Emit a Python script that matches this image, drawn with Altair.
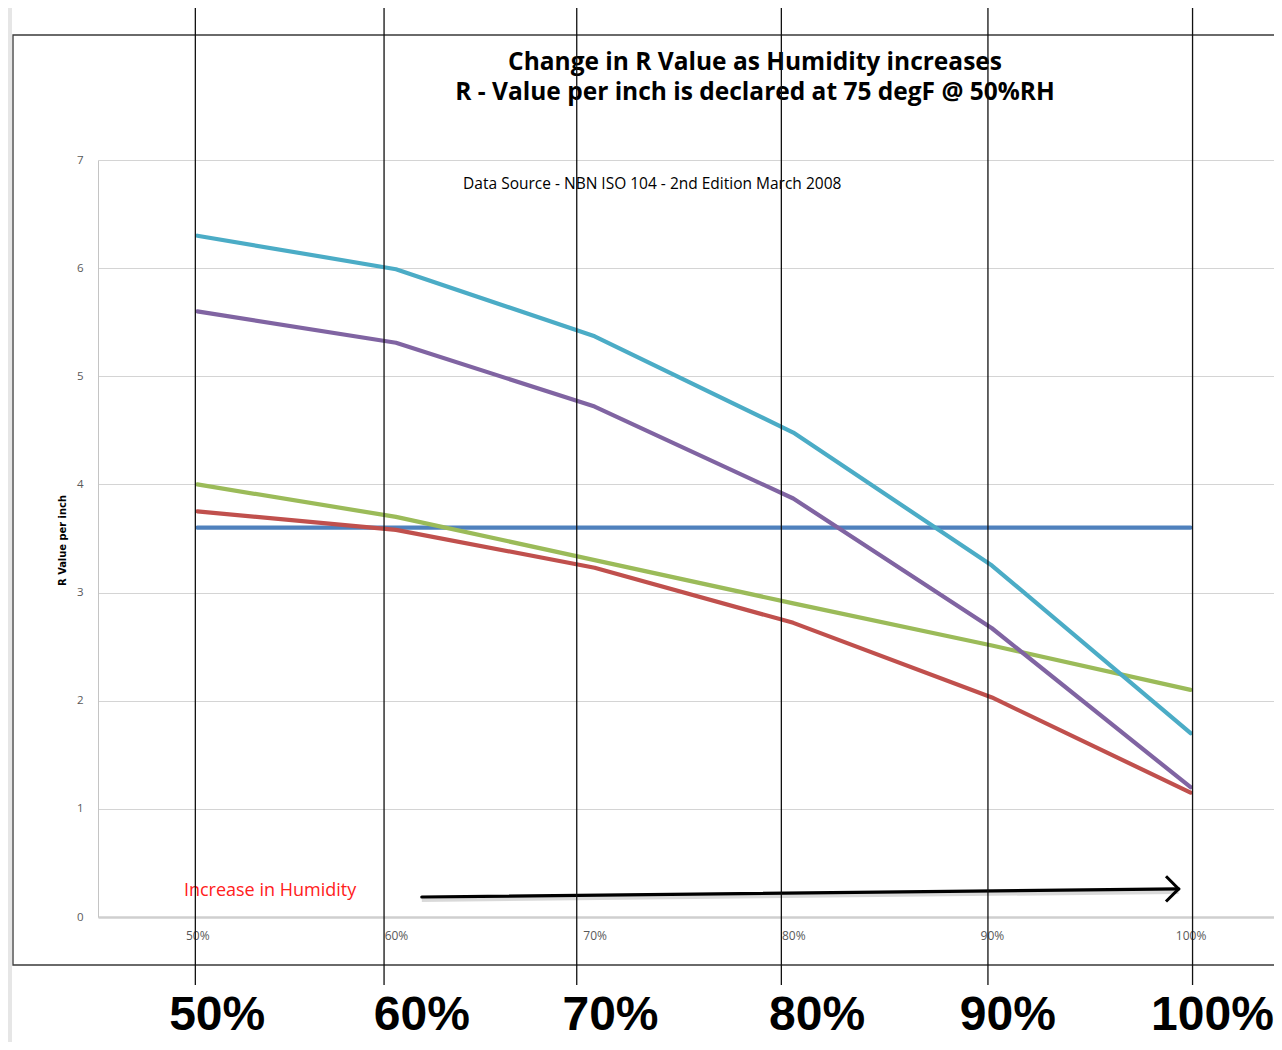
import altair as alt
import pandas as pd

# ---- data ----
humidity = [50, 60, 70, 80, 90, 100]
series_names = ["Declared R-value", "Material A", "Material B", "Material C", "Material D"]
series_colors = ["#4F81BD", "#C0504D", "#9BBB59", "#8064A2", "#4BACC6"]
declared_vals = [3.6, 3.6, 3.6, 3.6, 3.6, 3.6]
red_vals = [3.75, 3.58, 3.23, 2.72, 2.03, 1.15]
green_vals = [4.0, 3.7, 3.3, 2.9, 2.51, 2.1]
purple_vals = [5.6, 5.31, 4.72, 3.87, 2.67, 1.2]
cyan_vals = [6.3, 5.99, 5.37, 4.48, 3.25, 1.7]

y_ticks = [0, 1, 2, 3, 4, 5, 6, 7]
title_lines = ["Change in R Value as Humidity increases",
               "R - Value per inch is declared at 75 degF @ 50%RH"]
source_text = ["Data Source - NBN ISO 104 - 2nd Edition March 2008"]
source_x = [72.9]
source_y = [6.78]
note_text = ["Increase in Humidity"]
note_x = [53.66]
note_y = [0.24]
arrow_x = [61.3, 99.4]
arrow_y = [0.185, 0.26]

# slide overlay (vertical guide lines and big labels)
slide_line_pos = [49.9, 59.4, 69.1, 79.4, 89.8, 100.1]
slide_labels = ["50%", "60%", "70%", "80%", "90%", "100%"]
slide_label_pos = [51.0, 61.3, 70.8, 81.2, 90.8, 101.1]

# ---- tables ----
all_vals = [declared_vals, red_vals, green_vals, purple_vals, cyan_vals]
rows = []
for name, vals in zip(series_names, all_vals):
    for h, v in zip(humidity, vals):
        rows.append({"series": name, "humidity": h, "r": v})
df = pd.DataFrame(rows)

xscale = alt.Scale(domain=[45, 104.2], nice=False, zero=False)
yscale = alt.Scale(domain=[0, 7], nice=False)
X = alt.X("humidity:Q", scale=xscale)
Y = alt.Y("r:Q", scale=yscale)

one = pd.DataFrame({"k": [0]})

strip = alt.Chart(one).mark_rect(fill="#e6e6e6").encode(
    x=alt.value(-90), x2=alt.value(-86), y=alt.value(-152), y2=alt.value(882)
)
frame = alt.Chart(one).mark_rect(fillOpacity=0, stroke="#3a3a3a", strokeWidth=1.3).encode(
    x=alt.value(-85), x2=alt.value(1200), y=alt.value(-125), y2=alt.value(805)
)

title_df = pd.DataFrame({"k": [0]})
title = alt.Chart(title_df).mark_text(
    font="Open Sans", fontSize=24.5, fontWeight="bold", color="#000000",
    baseline="alphabetic", align="center", lineHeight=30
).encode(x=alt.value(657), y=alt.value(-90), text=alt.value(title_lines))

lines = alt.Chart(df).mark_line(strokeWidth=4.2, strokeCap="round", strokeJoin="round").encode(
    x=alt.X("humidity:Q", scale=xscale,
            axis=alt.Axis(values=humidity, labelExpr="datum.value + '%'", title=None,
                          grid=False, ticks=False, labelPadding=18, labelBaseline="middle",
                          labelFont="Open Sans", labelFontSize=12, labelColor="#595959",
                          domainColor="#cfcfcf", domainWidth=2.5)),
    y=alt.Y("r:Q", scale=yscale,
            axis=alt.Axis(values=y_ticks, format="d", title="R Value per inch", grid=True,
                          gridColor="#d4d4d4", gridWidth=1, ticks=False, labelPadding=15,
                          labelFont="Open Sans", labelFontSize=11.5, labelColor="#595959",
                          domainColor="#c4c4c4", domainWidth=1,
                          titleFont="Liberation Sans Narrow, DejaVu Sans Condensed",
                          titleFontSize=11, titleFontWeight="bold", titleColor="#000000",
                          titleAngle=-90, titleX=-36, titleY=380,
                          titleAlign="center", titleBaseline="middle")),
    color=alt.Color("series:N", scale=alt.Scale(domain=series_names, range=series_colors),
                    legend=None),
    order=alt.Order("humidity:Q"),
)

src_df = pd.DataFrame({"humidity": source_x, "r": source_y, "t": source_text})
source = alt.Chart(src_df).mark_text(font="Open Sans", fontSize=15.5, color="#000000").encode(
    x=X, y=Y, text="t:N"
)

note_df = pd.DataFrame({"humidity": note_x, "r": note_y, "t": note_text})
note = alt.Chart(note_df).mark_text(font="Open Sans", fontSize=18, color="#ff2020").encode(
    x=X, y=Y, text="t:N"
)

arrow_df = pd.DataFrame({"humidity": arrow_x, "r": arrow_y})
arrow_shadow = alt.Chart(arrow_df).mark_line(color="#000000", strokeWidth=6, opacity=0.15,
                                             yOffset=2).encode(x=X, y=Y)
arrow = alt.Chart(arrow_df).mark_line(color="#000000", strokeWidth=3.2,
                                      strokeCap="round").encode(x=X, y=Y)
head_df = pd.DataFrame({"humidity": arrow_x[-1:], "r": arrow_y[-1:]})
arrow_head = alt.Chart(head_df).mark_point(
    shape="M -1 -1 L 0 0 L -1 1", filled=False, stroke="#000000", strokeWidth=3,
    size=640, opacity=1, strokeJoin="miter"
).encode(x=X, y=Y)

ov_df = pd.DataFrame({"humidity": slide_line_pos})
overlay_rules = alt.Chart(ov_df).mark_rule(color="#111111", strokeWidth=1.3).encode(
    x=X, y=alt.value(-152), y2=alt.value(825)
)

lab_df = pd.DataFrame({"humidity": slide_label_pos, "t": slide_labels})
big_labels = alt.Chart(lab_df).mark_text(font="Liberation Sans", fontSize=48, fontWeight="bold",
                                         color="#000000", baseline="alphabetic").encode(
    x=X, y=alt.value(870), text="t:N"
)

chart = alt.layer(
    strip, frame, title, lines, source, note, arrow_shadow, arrow, arrow_head,
    overlay_rules, big_labels
).properties(
    width=1176, height=757,
    autosize=alt.AutoSizeParams(type="none"),
    padding={"left": 90, "top": 152, "right": 0, "bottom": 125},
).configure_view(stroke=None)

chart.save("out.html", embed_options={"renderer": "svg", "actions": False})
